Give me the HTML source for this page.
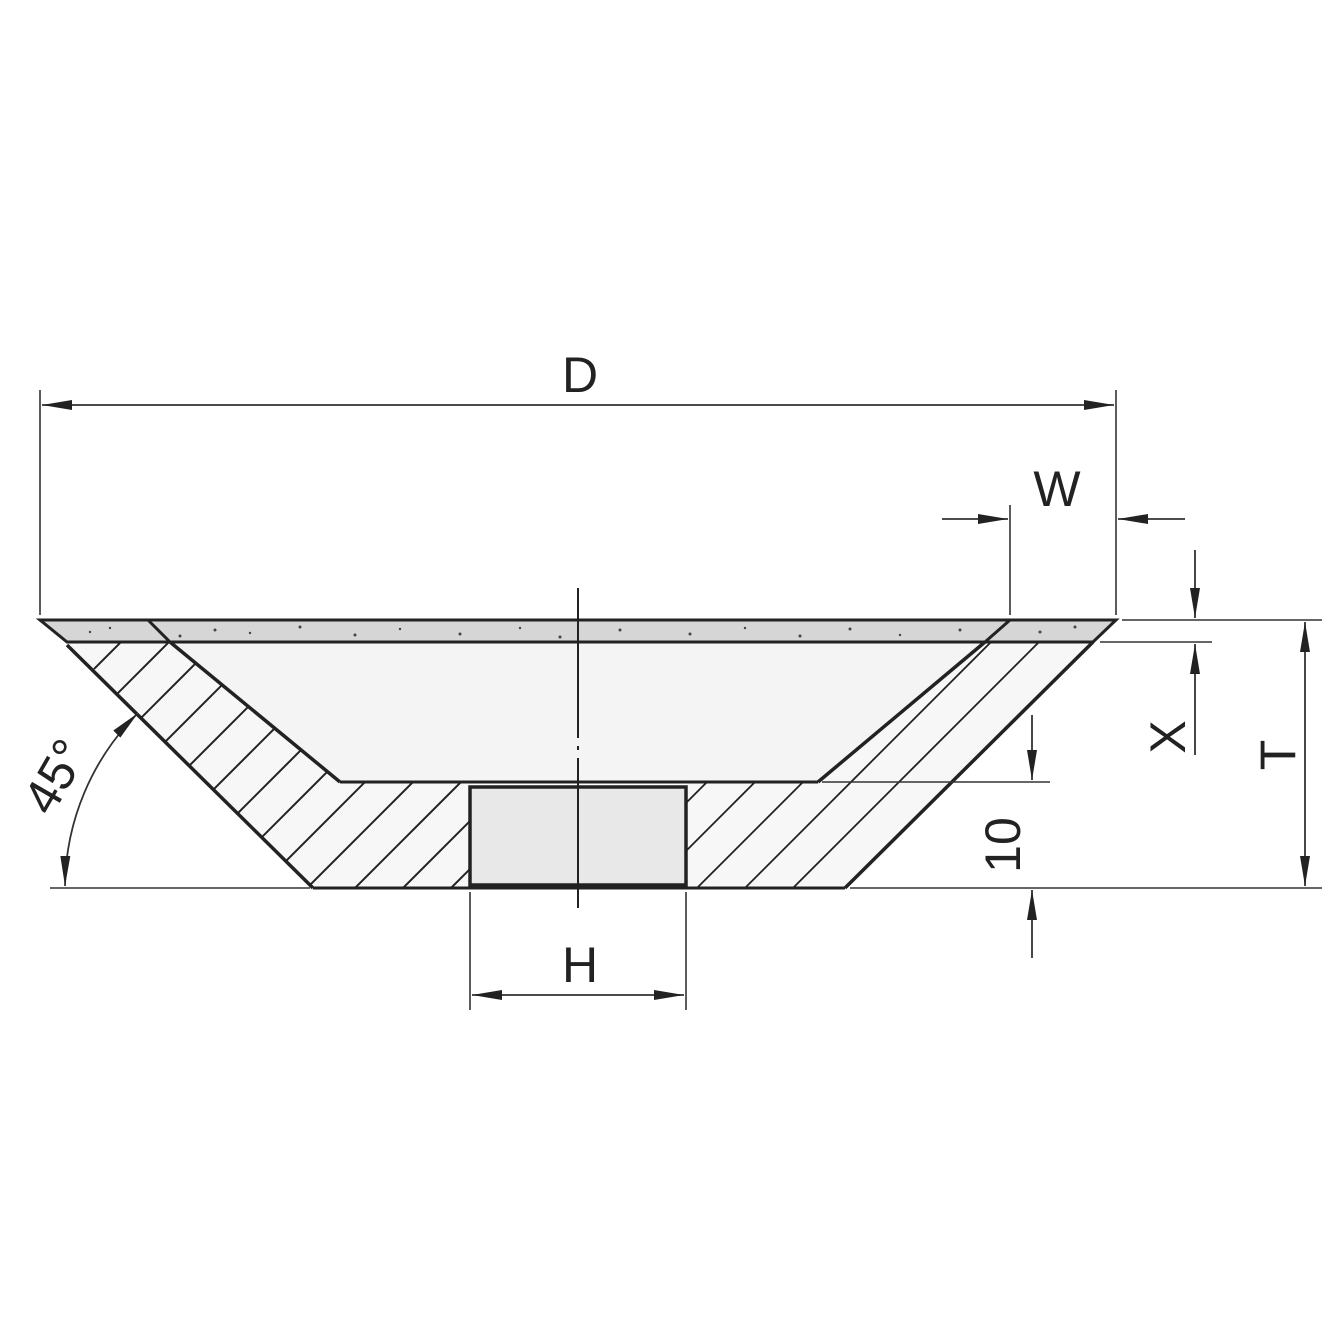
<!DOCTYPE html>
<html><head><style>
html,body{margin:0;padding:0;background:#fff;}
svg{display:block;}
text{font-family:"Liberation Sans",sans-serif;fill:#222;}
</style></head><body>
<svg width="1340" height="1340" viewBox="0 0 1340 1340" xmlns="http://www.w3.org/2000/svg">
<defs>
<clipPath id="cl"><polygon points="67,642 170,642 340,782 470,782 470,888 313,888"/></clipPath>
<clipPath id="cr"><polygon points="985,642 1093,642 845,888 686,888 686,782 818,782"/></clipPath>
<marker id="a" viewBox="0 0 30 10" refX="30" refY="5" markerWidth="30" markerHeight="10" markerUnits="userSpaceOnUse" orient="auto-start-reverse"><path d="M0,0 L30,5 L0,10 Z" fill="#222"/></marker>
</defs>
<polygon points="170,642 985,642 818,782 340,782" fill="#f4f4f4"/>
<polygon points="67,642 170,642 340,782 470,782 470,888 313,888" fill="#f7f7f7"/>
<polygon points="985,642 1093,642 845,888 686,888 686,782 818,782" fill="#f7f7f7"/>
<g clip-path="url(#cl)" stroke="#222" stroke-width="2">
<line x1="363" y1="400" x2="-237" y2="1000"/>
<line x1="411" y1="400" x2="-189" y2="1000"/>
<line x1="459" y1="400" x2="-141" y2="1000"/>
<line x1="507" y1="400" x2="-93" y2="1000"/>
<line x1="555" y1="400" x2="-45" y2="1000"/>
<line x1="603" y1="400" x2="3" y2="1000"/>
<line x1="651" y1="400" x2="51" y2="1000"/>
<line x1="699" y1="400" x2="99" y2="1000"/>
<line x1="747" y1="400" x2="147" y2="1000"/>
<line x1="795" y1="400" x2="195" y2="1000"/>
<line x1="843" y1="400" x2="243" y2="1000"/>
<line x1="891" y1="400" x2="291" y2="1000"/>
<line x1="939" y1="400" x2="339" y2="1000"/>
</g>
<g clip-path="url(#cr)" stroke="#222" stroke-width="1.8">
<line x1="1089" y1="400" x2="489" y2="1000"/>
<line x1="1137" y1="400" x2="537" y2="1000"/>
<line x1="1185" y1="400" x2="585" y2="1000"/>
<line x1="1233" y1="400" x2="633" y2="1000"/>
<line x1="1281" y1="400" x2="681" y2="1000"/>
</g>
<rect x="470" y="787" width="216" height="98" fill="#e8e8e8" stroke="#222" stroke-width="3.5"/>
<line x1="340" y1="782" x2="818" y2="782" stroke="#222" stroke-width="3"/>
<line x1="313" y1="888" x2="845" y2="888" stroke="#222" stroke-width="3"/>
<polyline points="67,645 313,888" fill="none" stroke="#222" stroke-width="3.5"/>
<polyline points="170,642 340,782" fill="none" stroke="#222" stroke-width="3.5"/>
<polyline points="985,642 818,782" fill="none" stroke="#222" stroke-width="3.5"/>
<polyline points="1093,642 845,888" fill="none" stroke="#222" stroke-width="3.5"/>
<polygon points="40,620 1116,620 1093,642 67,642" fill="#d6d6d6" stroke="#222" stroke-width="3"/>
<line x1="148" y1="620" x2="170" y2="642" stroke="#222" stroke-width="3"/>
<line x1="1010" y1="620" x2="985" y2="642" stroke="#222" stroke-width="3"/>
<g fill="#444">
<circle cx="90" cy="632" r="1.2"/><circle cx="110" cy="628" r="1.2"/><circle cx="180" cy="636" r="1.5"/><circle cx="215" cy="630" r="1.5"/><circle cx="250" cy="633" r="1.2"/><circle cx="300" cy="627" r="1.5"/><circle cx="355" cy="635" r="1.5"/><circle cx="400" cy="629" r="1.2"/><circle cx="460" cy="634" r="1.5"/><circle cx="520" cy="628" r="1.2"/><circle cx="560" cy="637" r="1.5"/><circle cx="620" cy="630" r="1.5"/><circle cx="690" cy="634" r="1.5"/><circle cx="745" cy="628" r="1.2"/><circle cx="800" cy="636" r="1.5"/><circle cx="850" cy="629" r="1.5"/><circle cx="900" cy="635" r="1.2"/><circle cx="960" cy="630" r="1.5"/><circle cx="1040" cy="632" r="1.5"/><circle cx="1075" cy="627" r="1.5"/>
</g>
<line x1="578" y1="588" x2="578" y2="915" stroke="#222" stroke-width="2" stroke-dasharray="150,8,4,8"/>
<g stroke="#333" stroke-width="1.6" fill="none">
<line x1="40" y1="390" x2="40" y2="615"/>
<line x1="1116" y1="390" x2="1116" y2="615"/>
<line x1="1010" y1="505" x2="1010" y2="615"/>
<line x1="1122" y1="620" x2="1322" y2="620"/>
<line x1="1100" y1="642" x2="1212" y2="642"/>
<line x1="50" y1="888" x2="310" y2="888"/>
<line x1="850" y1="888" x2="1322" y2="888"/>
<line x1="822" y1="782" x2="1050" y2="782"/>
<line x1="470" y1="892" x2="470" y2="1010"/>
<line x1="686" y1="892" x2="686" y2="1010"/>
</g>
<g stroke="#333" stroke-width="1.8" fill="none">
<line x1="42" y1="405" x2="1114" y2="405" marker-start="url(#a)" marker-end="url(#a)"/>
<line x1="942" y1="519" x2="1008" y2="519" marker-end="url(#a)"/>
<line x1="1185" y1="519" x2="1118" y2="519" marker-end="url(#a)"/>
<line x1="1195" y1="550" x2="1195" y2="618" marker-end="url(#a)"/>
<line x1="1195" y1="755" x2="1195" y2="644" marker-end="url(#a)"/>
<line x1="1305" y1="622" x2="1305" y2="886" marker-start="url(#a)" marker-end="url(#a)"/>
<line x1="1032" y1="715" x2="1032" y2="780" marker-end="url(#a)"/>
<line x1="1032" y1="958" x2="1032" y2="890" marker-end="url(#a)"/>
<line x1="472" y1="995" x2="684" y2="995" marker-start="url(#a)" marker-end="url(#a)"/>
<path d="M65,886 A248,248 0 0 1 138,713" marker-start="url(#a)" marker-end="url(#a)"/>
</g>
<text x="580" y="392" font-size="50" text-anchor="middle">D</text>
<text x="1057" y="506" font-size="50" text-anchor="middle">W</text>
<text x="580" y="982" font-size="50" text-anchor="middle">H</text>
<text transform="translate(1185,737) rotate(-90)" font-size="50" text-anchor="middle">X</text>
<text transform="translate(1295,755) rotate(-90)" font-size="50" text-anchor="middle">T</text>
<text transform="translate(1020,845) rotate(-90)" font-size="50" text-anchor="middle">10</text>
<text transform="translate(70,785) rotate(-60)" font-size="50" text-anchor="middle">45°</text>
</svg>
</body></html>
